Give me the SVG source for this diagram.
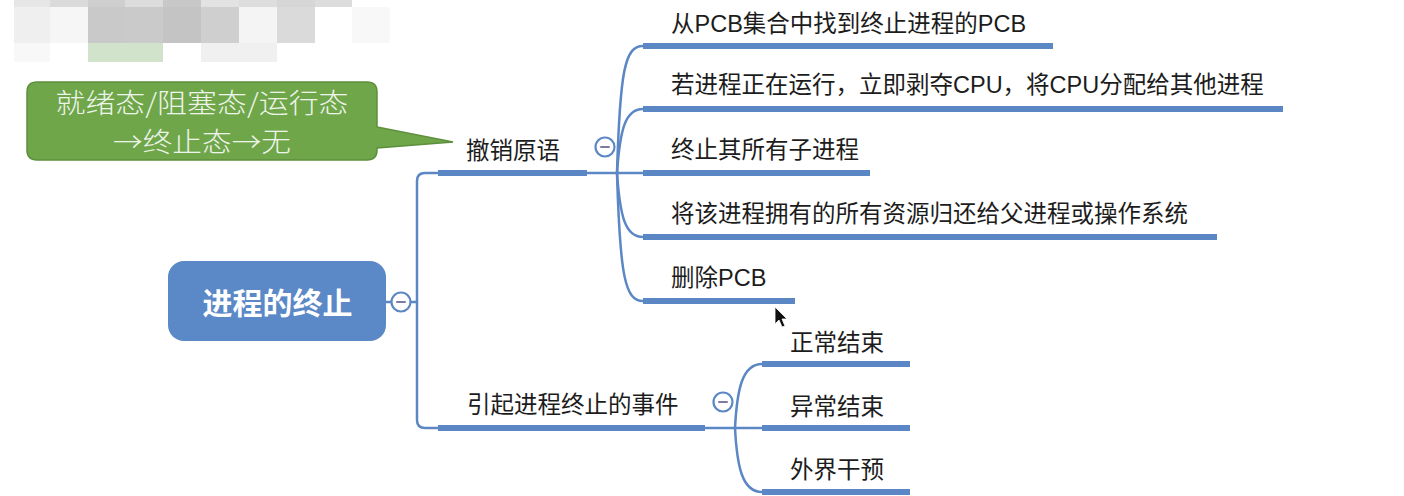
<svg xmlns="http://www.w3.org/2000/svg" width="1404" height="496" viewBox="0 0 1404 496">
<style>
.ul{fill:#5b87c5}
.conn{stroke:#5b87c5;stroke-width:2.5;fill:none;stroke-linecap:round}
.t{font-family:"Liberation Sans","Noto Sans CJK SC",sans-serif;font-size:23.5px;fill:#1c1c1c}
.ct{font-family:"Noto Sans CJK SC",sans-serif;font-weight:300;font-size:27px;fill:#eef4ea}
.tog circle{fill:#ffffff;stroke:#5b87c5;stroke-width:2.2}
.tog line{stroke:#7c7ca2;stroke-width:2;stroke-linecap:round}
</style>
<rect width="1404" height="496" fill="#ffffff"/>
<g id="mosaic">
<rect x="14" y="0" width="36" height="7" fill="#e6e6e6"/>
<rect x="50" y="0" width="38" height="7" fill="#dadada"/>
<rect x="88" y="0" width="37" height="7" fill="#cfcfcf"/>
<rect x="125" y="0" width="38" height="7" fill="#dcdcdc"/>
<rect x="163" y="0" width="38" height="7" fill="#c8c8c8"/>
<rect x="201" y="0" width="38" height="7" fill="#e2e2e2"/>
<rect x="239" y="0" width="38" height="7" fill="#dddddd"/>
<rect x="277" y="0" width="38" height="7" fill="#d6d6d6"/>
<rect x="315" y="0" width="37" height="7" fill="#dcdcdc"/>
<rect x="14" y="7" width="36" height="36" fill="#efefef"/>
<rect x="50" y="7" width="38" height="36" fill="#f6f6f6"/>
<rect x="88" y="7" width="37" height="36" fill="#c9c9c9"/>
<rect x="125" y="7" width="38" height="36" fill="#cacaca"/>
<rect x="163" y="7" width="38" height="36" fill="#c4c4c4"/>
<rect x="201" y="7" width="38" height="36" fill="#cfcfcf"/>
<rect x="239" y="7" width="38" height="36" fill="#f4f4f4"/>
<rect x="277" y="7" width="38" height="36" fill="#dadada"/>
<rect x="352" y="7" width="38" height="36" fill="#f8f8f8"/>
<rect x="14" y="43" width="36" height="19" fill="#f8f8f8"/>
<rect x="88" y="43" width="75" height="19" fill="#d2e3cb"/>
<rect x="201" y="43" width="76" height="19" fill="#f0f0f0"/>
</g>
<g id="connectors">
<path class="conn" d="M386,302 H391 M411,302 H417"/>
<path class="conn" d="M440,173 H425 Q417,173 417,181 V420 Q417,428 425,428 H440"/>
<path class="conn" d="M587,173 H643"/>
<path class="conn" d="M617,173 C620,70 625,46 643,46"/>
<path class="conn" d="M617,173 C620,130 625,109 643,109"/>
<path class="conn" d="M617,173 C620,216 625,237 643,237"/>
<path class="conn" d="M617,173 C620,276 625,301 643,301"/>
<path class="conn" d="M705,428 H762"/>
<path class="conn" d="M735,428 C737,390 742,364 762,364"/>
<path class="conn" d="M735,428 C737,466 742,492 762,492"/>
</g>
<g id="node-callout">
<path d="M37,82 H367 Q377,82 377,92 V127 L453,142 L377,148 V150 Q377,160 367,160 H37 Q27,160 27,150 V92 Q27,82 37,82 Z" fill="#6fa64a" stroke="#5d8f3c" stroke-width="1.5"/>
<text class="ct" x="202" y="113" text-anchor="middle" textLength="293" lengthAdjust="spacingAndGlyphs">就绪态/阻塞态/运行态</text>
<text class="ct" x="202" y="152" text-anchor="middle" textLength="178" lengthAdjust="spacingAndGlyphs">→终止态→无</text>
</g>
<g id="node-root">
<rect x="168" y="261" width="218" height="80" rx="16" fill="#5b88c6"/>
<text x="277.5" y="314" text-anchor="middle" font-family="'Noto Sans CJK SC',sans-serif" font-weight="bold" font-size="30" fill="#ffffff">进程的终止</text>
<g class="tog"><circle cx="401" cy="302" r="9.5"/><line x1="397" y1="302" x2="405" y2="302"/></g>
</g>
<g id="node-revoke">
<rect class="ul" x="438" y="170" width="149" height="6"/>
<text class="t" x="466" y="159">撤销原语</text>
<g class="tog"><circle cx="605" cy="147" r="9.5"/><line x1="601" y1="147" x2="609" y2="147"/></g>
</g>
<g id="node-r1">
<rect class="ul" x="643" y="43" width="410" height="6"/>
<text class="t" x="671" y="32">从PCB集合中找到终止进程的PCB</text>
</g>
<g id="node-r2">
<rect class="ul" x="643" y="106" width="640" height="6"/>
<text class="t" x="671" y="93">若进程正在运行，立即剥夺CPU，将CPU分配给其他进程</text>
</g>
<g id="node-r3">
<rect class="ul" x="643" y="170" width="227" height="6"/>
<text class="t" x="671" y="158">终止其所有子进程</text>
</g>
<g id="node-r4">
<rect class="ul" x="643" y="234" width="574" height="6"/>
<text class="t" x="671" y="222">将该进程拥有的所有资源归还给父进程或操作系统</text>
</g>
<g id="node-r5">
<rect class="ul" x="643" y="298" width="152" height="6"/>
<text class="t" x="671" y="286">删除PCB</text>
</g>
<g id="node-events">
<rect class="ul" x="438" y="425" width="267" height="6"/>
<text class="t" x="467" y="413">引起进程终止的事件</text>
<g class="tog"><circle cx="723" cy="402" r="9.5"/><line x1="719" y1="402" x2="727" y2="402"/></g>
</g>
<g id="node-e1">
<rect class="ul" x="762" y="361" width="148" height="6"/>
<text class="t" x="790" y="351">正常结束</text>
</g>
<g id="node-e2">
<rect class="ul" x="762" y="425" width="148" height="6"/>
<text class="t" x="790" y="415">异常结束</text>
</g>
<g id="node-e3">
<rect class="ul" x="762" y="489" width="148" height="6"/>
<text class="t" x="790" y="478">外界干预</text>
</g>
<g id="cursor">
<path d="M775,307 L775,324 L779,320 L782,327 L785,326 L782,319 L787,319 Z" fill="#111111" stroke="#ffffff" stroke-width="0.8"/>
</g>
</svg>
